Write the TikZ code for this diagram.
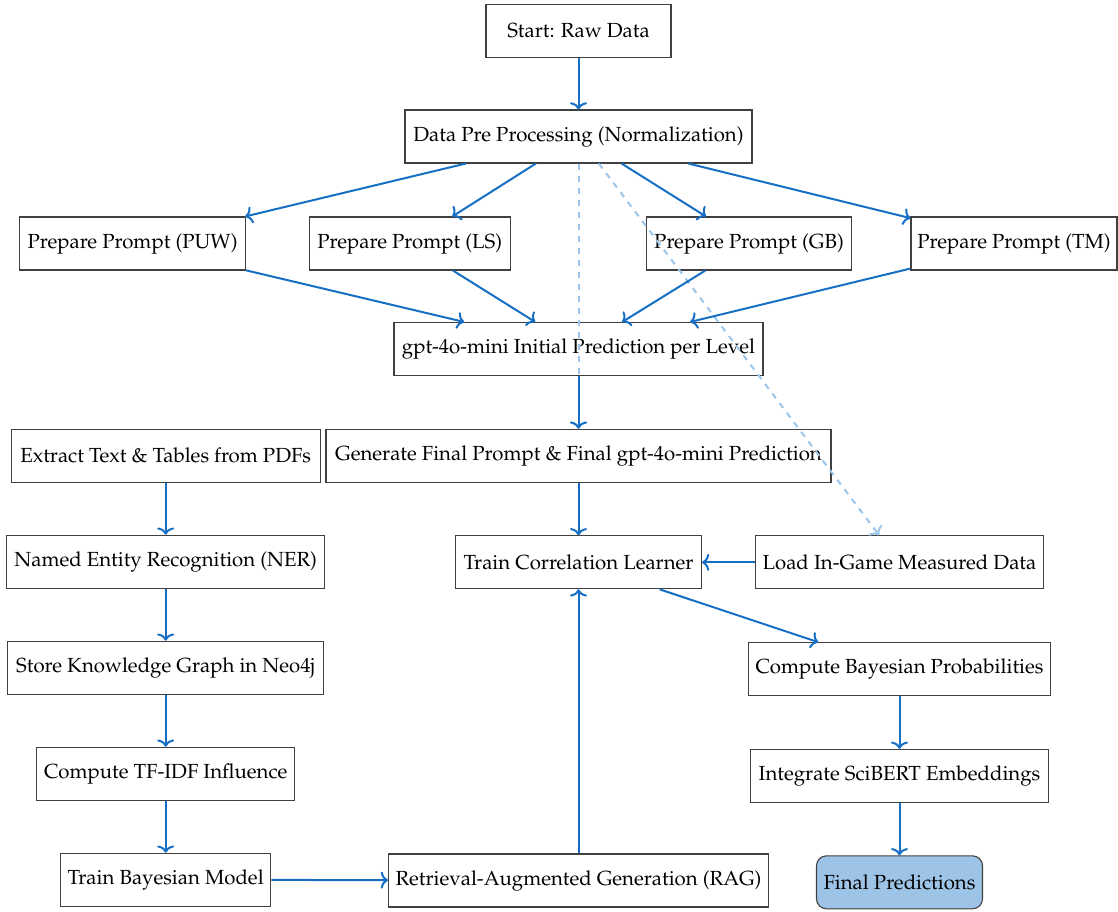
\documentclass[tikz,border=0pt]{standalone}
\usepackage[T1]{fontenc}
\usepackage{mathpazo}
\usetikzlibrary{arrows.meta}

\definecolor{flowblue}{RGB}{22,111,196}
\definecolor{hintblue}{RGB}{155,198,235}
\definecolor{finalfill}{RGB}{157,195,230}
\definecolor{boxline}{RGB}{64,64,64}

\tikzset{
  box/.style={draw=boxline, line width=0.55pt, fill=white, rectangle,
    minimum height=26.5pt, inner sep=2pt, align=center,
    font=\fontsize{10.2}{12}\selectfont},
  finalbox/.style={box, rounded corners=5pt, fill=finalfill},
  flow/.style={draw=flowblue, line width=1pt,
    -{Computer Modern Rightarrow[length=3.6pt,width=8.5pt]}},
  hint/.style={draw=hintblue, line width=1pt, dashed,
    -{Computer Modern Rightarrow[length=3.6pt,width=8.5pt]}},
}

\begin{document}
\begin{tikzpicture}[x=0.5pt, y=-0.5pt]
\useasboundingbox (0,0) rectangle (1118,911);

% main pipeline
\node[box, minimum width=92.5pt]  (start) at (578.5,31)    {Start: Raw Data};
\node[box, minimum width=173.5pt] (dpp)   at (578.5,136.5) {Data Pre Processing (Normalization)};

\node[box, minimum width=113pt]   (puw)   at (132.6,243.5) {Prepare Prompt (PUW)};
\node[box, minimum width=100.5pt] (ls)    at (409.7,243.5) {Prepare Prompt (LS)};
\node[box, minimum width=102.5pt] (gb)    at (749,243.5)   {Prepare Prompt (GB)};
\node[box, minimum width=103pt]   (tm)    at (1014,243.5)  {Prepare Prompt (TM)};

\node[box, minimum width=184.5pt] (gpt)   at (578.5,349)   {gpt-4o-mini Initial Prediction per Level};
\node[box, minimum width=252.5pt] (gen)   at (578.5,455.7) {Generate Final Prompt \& Final gpt-4o-mini Prediction};
\node[box, minimum width=123pt]   (tcl)   at (578.5,562.3) {Train Correlation Learner};
\node[box, minimum width=144pt]   (load)  at (899.5,562.3) {Load In-Game Measured Data};

% knowledge branch
\node[box, minimum width=154.5pt] (ext)   at (165.7,455.8) {Extract Text \& Tables from PDFs};
\node[box, minimum width=159pt]   (ner)   at (165.7,561.7) {Named Entity Recognition (NER)};
\node[box, minimum width=158pt]   (store) at (165.7,667.7) {Store Knowledge Graph in Neo4j};
\node[box, minimum width=129pt]   (tfidf) at (165.7,773.7) {Compute TF-IDF Influence};
\node[box, minimum width=105pt]   (tbm)   at (165.7,879.7) {Train Bayesian Model};
\node[box, minimum width=190pt]   (rag)   at (578.5,880.5) {Retrieval-Augmented Generation (RAG)};

% output branch
\node[box, minimum width=151pt]   (cbp)   at (899.5,669.2) {Compute Bayesian Probabilities};
\node[box, minimum width=149pt]   (sci)   at (899.5,775.8) {Integrate SciBERT Embeddings};
\node[finalbox, minimum width=83pt] (final) at (899.5,882.3) {Final Predictions};

% auxiliary (dashed) links
\draw[hint] (dpp) -- (gen);
\draw[hint] (dpp) -- (load);

% main flow
\draw[flow] (start) -- (dpp);
\foreach \p in {puw, ls, gb, tm} {
  \draw[flow] (dpp) -- (\p);
  \draw[flow] (\p) -- (gpt);
}
\draw[flow] (gpt) -- (gen);
\draw[flow] (gen) -- (tcl);
\draw[flow] (load) -- (tcl);
\draw[flow] (tcl) -- (cbp);
\draw[flow] (cbp) -- (sci);
\draw[flow] (sci) -- (final);

\draw[flow] (ext) -- (ner);
\draw[flow] (ner) -- (store);
\draw[flow] (store) -- (tfidf);
\draw[flow] (tfidf) -- (tbm);
\draw[flow] (tbm) -- (rag);
\draw[flow] (rag) -- (tcl);
\end{tikzpicture}
\end{document}
